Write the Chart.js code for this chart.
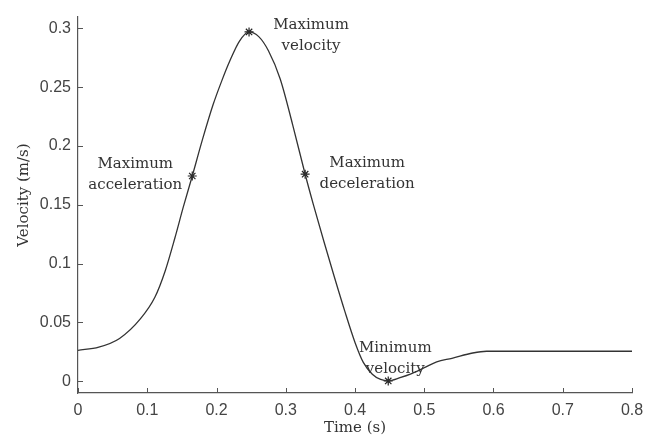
<!DOCTYPE html>
<html>
<head>
<meta charset="utf-8">
<title>Velocity profile</title>
<script src="https://cdn.jsdelivr.net/npm/chart.js@4"></script>
<style>
  html, body { margin: 0; padding: 0; background: #fff; }
  #wrap { width: 654px; height: 438px; }
</style>
</head>
<body>
<div id="wrap"><canvas id="chart" width="654" height="438"></canvas></div>
<script>
// velocity curve, sampled along time
const time = [0, 0.03, 0.06, 0.09, 0.111, 0.126, 0.14, 0.152, 0.165, 0.18, 0.195, 0.208, 0.219,
  0.233, 0.247, 0.261, 0.275, 0.292, 0.31, 0.328, 0.34, 0.355, 0.37, 0.385, 0.4, 0.412,
  0.425, 0.437, 0.448, 0.465, 0.48, 0.5, 0.518, 0.54, 0.57, 0.59, 0.65, 0.7, 0.75, 0.8];
const velocity = [0.0263, 0.029, 0.0364, 0.053, 0.0714, 0.094, 0.122, 0.148, 0.1745, 0.206, 0.235, 0.256, 0.272,
  0.289, 0.297, 0.293, 0.281, 0.257, 0.218, 0.176, 0.15, 0.119, 0.089, 0.06, 0.033, 0.016,
  0.006, 0.0015, 0.0003, 0.003, 0.006, 0.0115, 0.0165, 0.0195, 0.024, 0.0255, 0.0255, 0.0255, 0.0255, 0.0255];

// marked events on the curve
const markerNames = [["Maximum", "acceleration"], ["Maximum", "velocity"], ["Maximum", "deceleration"], ["Minimum", "velocity"]];
const markerTime = [0.165, 0.247, 0.328, 0.448];
const markerVelocity = [0.1745, 0.297, 0.176, 0.0003];

const xTicks = [0, 0.1, 0.2, 0.3, 0.4, 0.5, 0.6, 0.7, 0.8];
const yTicks = [0, 0.05, 0.1, 0.15, 0.2, 0.25, 0.3];

const serif = "'DejaVu Serif', serif";
const sans = "'Liberation Sans', Arial, sans-serif";

// label placement relative to each marker (pixels): [dx, dy of first line, dy of second line]
const labelOffsets = [[-57, -12, 9], [62, -7, 14], [62, -11, 10], [7, -33, -12]];

const annotate = {
  id: "annotate",
  afterDraw(chart) {
    const { ctx, chartArea, scales } = chart;
    ctx.save();

    // inward tick marks
    ctx.strokeStyle = "#555";
    ctx.lineWidth = 1;
    ctx.beginPath();
    xTicks.forEach(v => {
      const px = Math.round(scales.x.getPixelForValue(v)) + 0.5;
      ctx.moveTo(px, chartArea.bottom);
      ctx.lineTo(px, chartArea.bottom - 5);
    });
    yTicks.forEach(v => {
      const py = Math.round(scales.y.getPixelForValue(v)) + 0.5;
      ctx.moveTo(chartArea.left, py);
      ctx.lineTo(chartArea.left + 5, py);
    });
    ctx.stroke();

    // event labels
    ctx.fillStyle = "#333";
    ctx.font = "15px " + serif;
    ctx.textAlign = "center";
    ctx.textBaseline = "middle";
    markerNames.forEach((lines, i) => {
      const px = scales.x.getPixelForValue(markerTime[i]);
      const py = scales.y.getPixelForValue(markerVelocity[i]);
      const [dx, dy1, dy2] = labelOffsets[i];
      ctx.fillText(lines[0], px + dx, py + dy1);
      ctx.fillText(lines[1], px + dx, py + dy2);
    });

    // axis titles
    ctx.fillText("Time (s)", (chartArea.left + chartArea.right) / 2, 428);
    ctx.translate(24, 195);
    ctx.rotate(-Math.PI / 2);
    ctx.fillText("Velocity (m/s)", 0, 0);
    ctx.restore();
  }
};

new Chart(document.getElementById("chart"), {
  type: "scatter",
  data: {
    datasets: [
      {
        data: time.map((t, i) => ({ x: t, y: velocity[i] })),
        showLine: true,
        borderColor: "#333",
        borderWidth: 1.3,
        pointRadius: 0,
        cubicInterpolationMode: "monotone",
      },
      {
        data: markerTime.map((t, i) => ({ x: t, y: markerVelocity[i] })),
        pointStyle: "star",
        pointRadius: 4.5,
        borderColor: "#222",
        borderWidth: 1.2,
        backgroundColor: "#222",
      },
    ],
  },
  options: {
    responsive: false,
    animation: false,
    layout: { padding: { top: 15, right: 22, left: 0, bottom: 0 } },
    plugins: { legend: { display: false }, tooltip: { enabled: false } },
    scales: {
      x: {
        type: "linear",
        min: 0,
        max: 0.8,
        afterBuildTicks: scale => { scale.ticks = xTicks.map(v => ({ value: v })); },
        afterFit: scale => { scale.height = 45; },
        grid: { display: false, drawTicks: false },
        border: { color: "#555", width: 1.2 },
        ticks: { color: "#444", font: { family: sans, size: 16 }, padding: 8, callback: v => String(v), maxRotation: 0 },
      },
      y: {
        min: -0.01,
        max: 0.31,
        afterBuildTicks: scale => { scale.ticks = yTicks.map(v => ({ value: v })); },
        afterFit: scale => { scale.width = 78; },
        grid: { display: false, drawTicks: false },
        border: { color: "#555", width: 1.2 },
        ticks: { color: "#444", font: { family: sans, size: 16 }, padding: 7, callback: v => String(v) },
      },
    },
  },
  plugins: [annotate],
});
</script>
</body>
</html>
